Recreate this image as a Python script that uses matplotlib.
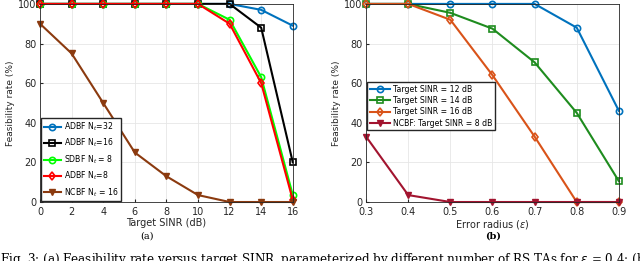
import numpy as np
import matplotlib.pyplot as plt

# (a) feasibility vs target SINR
sinr = [0, 2, 4, 6, 8, 10, 12, 14, 16]
adbf32 = [100, 100, 100, 100, 100, 100, 100, 97, 89]
adbf16 = [100, 100, 100, 100, 100, 100, 100, 88, 20]
sdbf8 = [100, 100, 100, 100, 100, 100, 92, 63, 3.5]
adbf8 = [100, 100, 100, 100, 100, 100, 90, 60, 1]
ncbf16 = [90, 75, 50, 25, 13, 3.5, 0, 0, 0]

# (b) feasibility vs error radius
radius = [0.3, 0.4, 0.5, 0.6, 0.7, 0.8, 0.9]
sinr12 = [100, 100, 100, 100, 100, 88, 46]
sinr14 = [100, 100, 95.5, 87.5, 70.5, 45, 10.5]
sinr16 = [100, 100, 92, 64, 33, 0, 0]
ncbf8 = [33, 3.5, 0, 0, 0, 0, 0]

plt.rcParams['font.family'] = 'DejaVu Sans'
fig = plt.figure(figsize=(6.4, 2.61), dpi=100)
ax1 = fig.add_axes([0.0625, 0.226, 0.395, 0.759])
ax2 = fig.add_axes([0.572, 0.226, 0.395, 0.759])

tc = '#262626'
kw = dict(lw=1.5, ms=4.5, mfc='none', mew=1.2, clip_on=False)
tri = dict(lw=1.5, ms=5, clip_on=False)

ax1.plot(sinr, adbf32, '-o', color='#0072BD', label='ADBF N$_t$=32', **kw)
ax1.plot(sinr, adbf16, '-s', color='black', label='ADBF N$_t$=16', **kw)
ax1.plot(sinr, sdbf8, '-o', color='#00FF00', label='SDBF N$_t$ = 8', **kw)
ax1.plot(sinr, adbf8, '-d', color='#FF0000', label='ADBF N$_t$=8', **kw)
ax1.plot(sinr, ncbf16, '-v', color='#8B3A0F', label='NCBF N$_t$ = 16', **tri)
ax1.set_xlim(0, 16)
ax1.set_xticks(sinr)
ax1.set_xlabel('Target SINR (dB)', fontsize=7, color=tc, labelpad=1)
ax1.legend(loc='lower left', fontsize=5.6, handlelength=2.3, handletextpad=0.4,
           borderaxespad=0.15, borderpad=0.3, labelspacing=0.5,
           fancybox=False, edgecolor='#262626', framealpha=1)

ax2.plot(radius, sinr12, '-o', color='#0072BD', label='Target SINR = 12 dB', **kw)
ax2.plot(radius, sinr14, '-s', color='#1E8C1E', label='Target SINR = 14 dB', **kw)
ax2.plot(radius, sinr16, '-d', color='#D95319', label='Target SINR = 16 dB', **kw)
ax2.plot(radius, ncbf8, '-v', color='#A2142F', label='NCBF: Target SINR = 8 dB', **tri)
ax2.set_xlim(0.3, 0.9)
ax2.set_xticks(radius)
ax2.set_xlabel('Error radius ($\\epsilon$)', fontsize=7, color=tc, labelpad=1)
ax2.legend(loc='upper left', bbox_to_anchor=(0.0, 0.61), fontsize=5.6, handlelength=2.6,
           handletextpad=0.4, borderaxespad=0.15, borderpad=0.3, labelspacing=0.3,
           fancybox=False, edgecolor='#262626', framealpha=1)

for ax in (ax1, ax2):
    ax.set_ylim(0, 100)
    ax.set_yticks([0, 20, 40, 60, 80, 100])
    ax.set_ylabel('Feasibility rate (%)', fontsize=6.5, color=tc, labelpad=2)
    ax.grid(True, color='#e6e6e6', lw=0.6)
    ax.set_axisbelow(True)
    ax.tick_params(labelsize=7, colors=tc, length=2, direction='in', pad=2.5)
    ax.tick_params(axis='x', pad=3.5)
    for s in ax.spines.values():
        s.set_color(tc)
        s.set_linewidth(0.6)

fig.text(0.23, 0.085, '(a)', fontsize=7, family='serif', ha='center')
fig.text(0.77, 0.085, '(b)', fontsize=7, family='serif', ha='center', weight='bold')
fig.text(0.0, -0.025, 'Fig. 3: (a) Feasibility rate versus target SINR, parameterized by different number of RS TAs for $\\epsilon$ = 0.4; (b) Feasibility',
         fontsize=8.6, family='serif', ha='left', va='bottom')

fig.savefig('out.png', dpi=100)
